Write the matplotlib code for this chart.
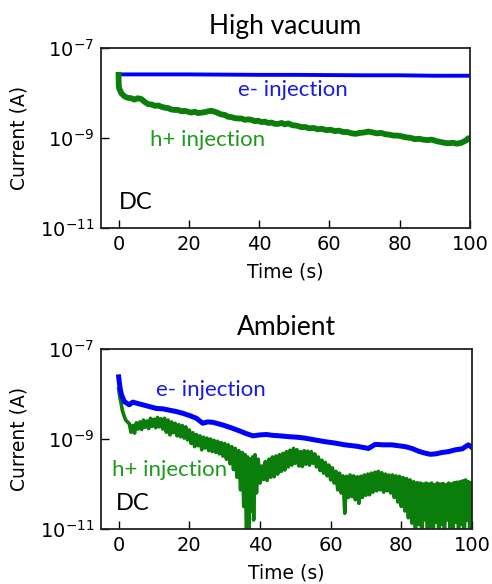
import numpy as np
import matplotlib
matplotlib.use("Agg")
import matplotlib.pyplot as plt

plt.rcParams["path.simplify"] = False

# ---- data (time in s, log10 of current in A) ----
hv_e_t = [0, 0.3, 5, 10, 20, 30, 40, 50, 60, 70, 80, 90, 100]
hv_e_log = [-7.60, -7.58, -7.58, -7.58, -7.58, -7.585, -7.59, -7.59,
            -7.595, -7.60, -7.60, -7.61, -7.61]

hv_h_t = [0, 0.05, 0.15, 0.8, 1.7, 2.6, 3.6, 4.5, 5.5, 6.5, 7.4, 8.4, 9.4,
          10.4, 11.3, 12.2, 13.2, 14.1, 15.0, 16.0, 17.0, 17.9, 18.8, 19.8,
          20.7, 21.7, 22.6, 23.6, 24.5, 25.5, 26.4, 27.4, 28.3, 29.2, 30.2,
          31.1, 32.1, 33.0, 34.0, 35.0, 35.9, 36.9, 37.8, 38.8, 39.7, 40.7,
          41.6, 42.6, 43.5, 44.5, 45.4, 46.4, 47.3, 48.3, 49.5, 50.7, 51.9,
          53.1, 54.3, 55.5, 56.7, 57.9, 59.1, 60.3, 61.5, 62.7, 63.9, 65.1,
          66.3, 67.5, 68.7, 69.9, 71.1, 72.3, 73.5, 74.7, 75.9, 77.1, 78.3,
          79.5, 80.7, 81.9, 83.1, 84.3, 85.5, 86.7, 87.9, 89.1, 90.3, 91.5,
          92.7, 93.9, 95.1, 96.3, 97.5, 98.3, 99.0, 99.5, 100.0]
hv_h_log = [-7.59, -7.80, -7.89, -8.00, -8.07, -8.10, -8.11, -8.14, -8.11,
            -8.13, -8.19, -8.24, -8.25, -8.28, -8.27, -8.30, -8.32, -8.33,
            -8.36, -8.37, -8.37, -8.40, -8.39, -8.41, -8.43, -8.41, -8.44,
            -8.43, -8.42, -8.40, -8.39, -8.41, -8.44, -8.47, -8.48, -8.52,
            -8.53, -8.55, -8.56, -8.56, -8.59, -8.58, -8.59, -8.62, -8.61,
            -8.64, -8.63, -8.66, -8.65, -8.68, -8.68, -8.66, -8.69, -8.67,
            -8.71, -8.72, -8.75, -8.75, -8.78, -8.77, -8.80, -8.79, -8.82,
            -8.81, -8.84, -8.83, -8.86, -8.86, -8.89, -8.90, -8.88, -8.87,
            -8.85, -8.87, -8.89, -8.88, -8.91, -8.92, -8.94, -8.94, -8.96,
            -8.98, -8.99, -9.02, -9.01, -9.03, -9.04, -9.03, -9.06, -9.08,
            -9.10, -9.11, -9.10, -9.12, -9.10, -9.07, -9.04, -9.00, -9.01]

amb_e_t = [0, 0.2, 0.4, 0.8, 1.6, 3.0, 4.0, 5.3, 6.8, 8.7, 10.6, 12.5, 14.4,
           16.3, 18.2, 20.1, 22.0, 23.8, 25.2, 26.7, 28.1, 29.5, 31.8, 34.2,
           36.1, 38.0, 39.9, 41.8, 43.7, 45.6, 48.4, 50.5, 52.7, 55.5, 58.4,
           61.2, 64.0, 67.3, 70.7, 72.6, 75.0, 77.3, 79.2, 81.1, 83.0, 84.8,
           86.5, 88.2, 89.8, 91.5, 93.4, 95.3, 97.2, 99.0, 100.0]
amb_e_log = [-7.62, -7.75, -7.87, -8.02, -8.17, -8.24, -8.18, -8.21, -8.24,
             -8.28, -8.32, -8.33, -8.36, -8.39, -8.43, -8.48, -8.54, -8.65,
             -8.62, -8.63, -8.66, -8.69, -8.75, -8.82, -8.88, -8.93, -8.91,
             -8.90, -8.92, -8.93, -8.95, -8.96, -8.98, -9.02, -9.06, -9.09,
             -9.13, -9.16, -9.21, -9.12, -9.13, -9.13, -9.15, -9.17, -9.21,
             -9.27, -9.31, -9.34, -9.33, -9.30, -9.28, -9.24, -9.22, -9.13,
             -9.19]

amb_h_t = [0.0, 0.2, 0.4, 0.7, 1.0, 1.3, 1.6, 2.0, 2.5,
           3.0, 3.5, 4.0, 4.5, 5.0, 5.5, 6.0, 6.5, 7.0, 7.5, 8.0, 8.5, 9.0,
           9.5, 10.0, 10.5, 11.0, 11.5, 12.0, 12.5, 13.0, 13.5, 14.0, 14.5,
           15.0, 15.5, 16.0, 16.5, 17.0, 17.5, 18.0, 18.5, 19.0, 19.5, 20.0,
           20.5, 21.0, 21.5, 22.0, 22.5, 23.0, 23.5, 24.0, 24.5, 25.0, 25.5,
           26.0, 26.5, 27.0, 27.5, 28.0, 28.5, 29.0, 29.5, 30.0, 30.5, 31.0,
           31.5, 32.0, 32.5, 33.0, 33.5, 34.0, 34.5, 35.0, 35.4, 35.8, 36.2,
           36.5, 36.8, 37.1, 37.5, 37.9, 38.2, 38.6, 39.0, 39.5, 40.0, 40.5,
           41.0, 41.5, 42.0, 42.5, 43.0, 43.5, 44.0, 44.5, 45.0, 45.5, 46.0,
           46.5, 47.0, 47.5, 48.0, 48.5, 49.0, 49.5, 50.0, 50.5, 51.0, 51.5,
           52.0, 52.5, 53.0, 53.5, 54.0, 54.5, 55.0, 55.5, 56.0, 56.5, 57.0,
           57.5, 58.0, 58.5, 59.0, 59.5, 60.0, 60.5, 61.0, 61.5, 62.0, 62.5,
           63.0, 63.5, 64.0, 64.5, 65.0, 65.5, 66.0, 66.5, 67.0, 67.5, 68.0,
           68.5, 69.0, 69.5, 70.0, 70.5, 71.0, 71.5, 72.0, 72.5, 73.0, 73.5,
           74.0, 74.5, 75.0, 75.5, 76.0, 76.5, 77.0, 77.5, 78.0, 78.5, 79.0,
           79.5, 80.0, 80.5, 81.0, 81.5, 82.0, 82.5, 83.0, 83.5, 84.0, 84.5,
           85.0, 85.4, 85.8, 86.2, 86.6, 87.0, 87.4, 87.8, 88.2, 88.6, 89.0,
           89.4, 89.8, 90.2, 90.6, 91.0, 91.4, 91.8, 92.2, 92.6, 93.0, 93.4,
           93.8, 94.2, 94.6, 95.0, 95.4, 95.8, 96.2, 96.6, 97.0, 97.4, 97.8,
           98.2, 98.6, 99.0, 99.4, 99.8, 100.0]
amb_h_log = [-7.88, -8.00, -8.10, -8.21, -8.35, -8.43, -8.50, -8.58, -8.62,
             -8.66, -8.85, -8.70, -8.87, -8.64, -8.78, -8.62, -8.79, -8.58,
             -8.74, -8.60, -8.77, -8.54, -8.72, -8.56, -8.75, -8.52, -8.73,
             -8.55, -8.78, -8.54, -8.85, -8.58, -8.91, -8.62, -8.86, -8.65,
             -8.93, -8.68, -8.95, -8.70, -8.98, -8.73, -9.02, -8.80, -9.10,
             -8.86, -9.17, -8.90, -9.15, -8.93, -9.24, -8.96, -9.20, -8.98,
             -9.26, -9.00, -9.28, -9.03, -9.30, -9.05, -9.33, -9.08, -9.38,
             -9.10, -9.45, -9.13, -9.55, -9.17, -9.68, -9.21, -9.85, -9.26,
             -10.13, -9.30, -10.5, -9.35, -11.3, -9.40, -11.3, -9.45, -10.6,
             -9.40, -10.8, -9.35, -10.2, -9.45, -9.98, -9.60, -9.90, -9.50,
             -9.92, -9.45, -9.85, -9.40, -9.84, -9.38, -9.78, -9.35, -9.72,
             -9.32, -9.69, -9.28, -9.62, -9.25, -9.58, -9.21, -9.54, -9.24,
             -9.60, -9.28, -9.61, -9.26, -9.56, -9.27, -9.58, -9.28, -9.54,
             -9.33, -9.62, -9.40, -9.70, -9.47, -9.76, -9.52, -9.82, -9.58,
             -9.91, -9.64, -9.98, -9.72, -10.13, -9.76, -10.20, -9.82, -10.65,
             -9.83, -10.30, -9.80, -10.28, -9.82, -10.35, -9.84, -10.43, -9.83,
             -10.30, -9.80, -10.25, -9.78, -10.24, -9.76, -10.18, -9.74, -10.15,
             -9.72, -10.13, -9.75, -10.18, -9.78, -10.15, -9.80, -10.20, -9.80,
             -10.30, -9.82, -10.40, -9.83, -10.50, -9.86, -10.60, -9.88, -10.75,
             -9.91, -10.87, -9.95, -11.2, -9.97, -10.9, -9.98, -11.3, -10.0,
             -10.8, -9.98, -11.3, -10.0, -10.95, -9.98, -11.3, -10.02, -10.85,
             -9.98, -11.2, -10.0, -10.9, -9.99, -11.3, -10.02, -10.8, -9.98,
             -11.1, -10.0, -11.3, -9.97, -10.85, -9.96, -11.2, -9.95, -10.9,
             -9.93, -11.3, -9.91, -10.8, -9.95, -11.2, -9.97, -10.5]

panel_titles = ["High vacuum", "Ambient"]
y_ticks = [1e-11, 1e-9, 1e-7]
x_ticks = [0, 20, 40, 60, 80, 100]

TXT_FONT = ["Lato", "DejaVu Sans"]
BLUE = "#0000ff"
GREEN = "#0a7d0a"
BLUE_TXT = "#1a1ae6"
GREEN_TXT = "#1f9a1f"


def setup_axes(ax, title):
    ax.set_yscale("log")
    ax.set_xlim(-5, 100)
    ax.set_ylim(1e-11, 1e-7)
    ax.set_yticks(y_ticks)
    ax.yaxis.set_minor_locator(matplotlib.ticker.NullLocator())
    ax.set_xticks(x_ticks)
    ax.tick_params(direction="in", length=6, width=1.0, labelsize=14,
                   top=False, right=False, pad=5)
    for s in ax.spines.values():
        s.set_linewidth(1.3)
        s.set_color("#222222")
    ax.set_xlabel("Time (s)", fontsize=13.5, labelpad=6)
    ax.set_ylabel("Current (A)", fontsize=13.5, labelpad=8)
    ax.set_title(title, fontsize=19, family=TXT_FONT, pad=10)


fig = plt.figure(figsize=(4.92, 5.84), dpi=100)
ax1 = fig.add_axes([0.2053, 0.6091, 0.7500, 0.3082])
ax2 = fig.add_axes([0.2053, 0.0942, 0.7540, 0.3082])

setup_axes(ax1, panel_titles[0])
ax1.plot(hv_e_t, 10 ** np.array(hv_e_log), color=BLUE, lw=2.8)
ax1.plot(hv_h_t, 10 ** np.array(hv_h_log), color=GREEN, lw=4.2)
ax1.text(0.520, 0.768, "e- injection", transform=ax1.transAxes, color=BLUE_TXT,
         fontsize=16, family=TXT_FONT, ha="center", va="center")
ax1.text(0.289, 0.490, "h+ injection", transform=ax1.transAxes, color=GREEN_TXT,
         fontsize=16, family=TXT_FONT, ha="center", va="center")
ax1.text(0.0935, 0.146, "DC", transform=ax1.transAxes, color="black",
         fontsize=17, family=TXT_FONT, ha="center", va="center")

setup_axes(ax2, panel_titles[1])
ax2.plot(amb_h_t, 10 ** np.array(amb_h_log), color=GREEN, lw=2.6,
         solid_joinstyle="round")
ax2.plot(amb_e_t, 10 ** np.array(amb_e_log), color=BLUE, lw=3.6)
ax2.text(0.296, 0.772, "e- injection", transform=ax2.transAxes, color=BLUE_TXT,
         fontsize=16, family=TXT_FONT, ha="center", va="center")
ax2.text(0.186, 0.328, "h+ injection", transform=ax2.transAxes, color=GREEN_TXT,
         fontsize=16, family=TXT_FONT, ha="center", va="center")
ax2.text(0.086, 0.144, "DC", transform=ax2.transAxes, color="black",
         fontsize=17, family=TXT_FONT, ha="center", va="center")

fig.savefig("out.png", dpi=100)
